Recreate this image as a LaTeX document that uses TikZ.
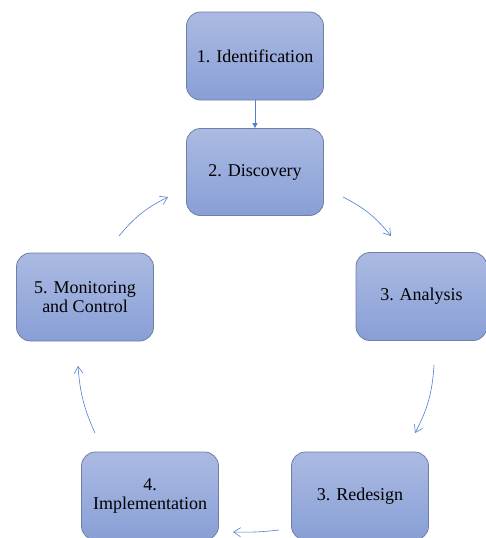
\documentclass[tikz,border=0pt]{standalone}
\usepackage{fontspec}
\setmainfont{Liberation Serif}
\usetikzlibrary{arrows.meta}
\definecolor{boxtop}{HTML}{ABBAE2}
\definecolor{boxbot}{HTML}{889FD6}
\definecolor{boxline}{HTML}{6F7FA6}
\definecolor{arr}{HTML}{4F7FD0}
\tikzset{
  stage/.style={draw=boxline, line width=0.8pt, rounded corners=14pt,
    top color=boxtop, bottom color=boxbot, minimum width=137pt, minimum height=88pt,
    align=center, inner sep=2pt, font=\fontsize{18}{19}\selectfont, text=black},
  cyc/.style={draw=arr, line width=0.6pt, -{Straight Barb[length=7pt,width=9pt,line width=0.6pt]}},
  straight/.style={draw=arr, line width=0.8pt, -{Triangle[length=5pt,width=5pt]}}
}
\begin{document}
\begin{tikzpicture}[x=1pt,y=-1pt]
\useasboundingbox (0,0) rectangle (486,538);
\clip (0,0) rectangle (486,538);
\node[stage] (ident) at (255,56) {1. Identification};
\node[stage, minimum height=87pt] (disc) at (255,172) {2. Discovery};
\node[stage] (monit) at (85,297) {5. Monitoring\\and Control};
\node[stage, minimum width=131pt] (anal) at (421.5,296.5) {3. Analysis};
\node[stage] (redes) at (360,496) {3. Redesign};
\node[stage] (impl) at (150,496) {4.\\Implementation};
\draw[straight] (ident.south) -- (disc.north);
\coordinate (a1) at (343,197); \coordinate (a2) at (391,236);
\coordinate (b1) at (434,365); \coordinate (b2) at (415,433);
\coordinate (c1) at (279,530); \coordinate (c2) at (233,532);
\coordinate (d1) at (95,433);  \coordinate (d2) at (78,366);
\coordinate (e1) at (119,236); \coordinate (e2) at (168,197);
\draw[cyc] (a1) to[bend left=12] (a2);
\draw[cyc] (b1) to[bend left=12] (b2);
\draw[cyc] (c1) to[bend left=4] (c2);
\draw[cyc] (d1) to[bend left=10] (d2);
\draw[cyc] (e1) to[bend left=12] (e2);
\end{tikzpicture}
\end{document}
